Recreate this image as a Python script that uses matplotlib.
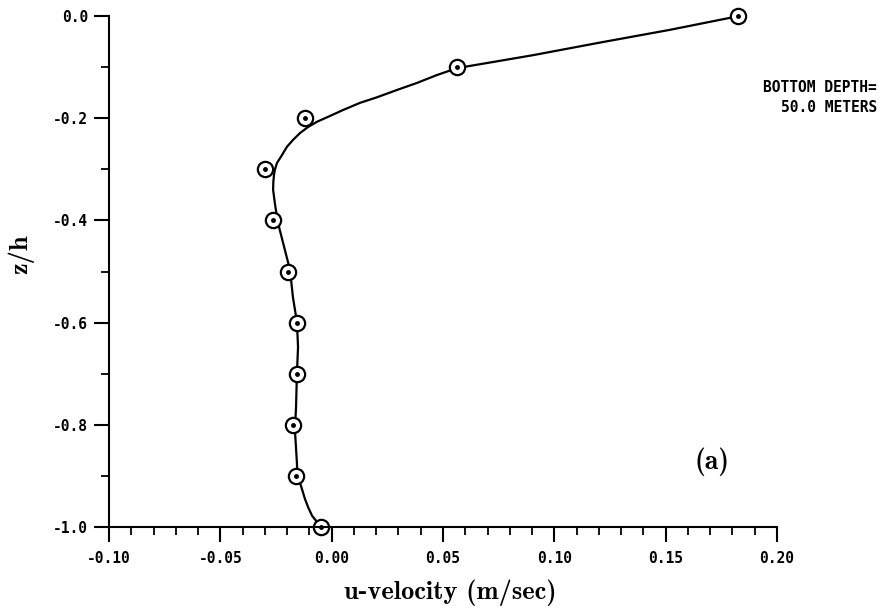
import matplotlib
matplotlib.use("Agg")
import matplotlib.pyplot as plt
from matplotlib.ticker import MultipleLocator, FormatStrFormatter

# Puntos medidos (circulos con punto)
z_obs = [0.0, -0.1, -0.2, -0.3, -0.4, -0.5, -0.6, -0.7, -0.8, -0.9, -1.0]
u_obs = [0.1825, 0.0563, -0.0120, -0.0300, -0.0263, -0.0196,
         -0.0156, -0.0157, -0.0174, -0.0160, -0.0048]

# Perfil ajustado (linea continua)
z_fit = [0.0, -0.027, -0.052, -0.077, -0.102, -0.1155, -0.131, -0.1448,
         -0.159, -0.170, -0.184, -0.1957, -0.207, -0.2172, -0.229, -0.2427,
         -0.256, -0.272, -0.288, -0.301, -0.311, -0.325, -0.340, -0.370,
         -0.405, -0.458, -0.497, -0.550, -0.599, -0.648, -0.699, -0.765,
         -0.810, -0.875, -0.898, -0.922, -0.945, -0.961, -0.978, -0.990, -1.0]
u_fit = [0.1830, 0.1520, 0.1205, 0.0900, 0.0563, 0.0473, 0.0383, 0.0293,
         0.0204, 0.0127, 0.0051, -0.0008, -0.0066, -0.0106, -0.0142, -0.0174,
         -0.0201, -0.0223, -0.0246, -0.0255, -0.0259, -0.0262, -0.0263, -0.0254,
         -0.0241, -0.0210, -0.0187, -0.0174, -0.0156, -0.0151, -0.0156, -0.0160,
         -0.0165, -0.0156, -0.0154, -0.0136, -0.0120, -0.0106, -0.0088, -0.0066,
         -0.0048]

plt.rcParams['font.family'] = ['DejaVu Sans Mono']
plt.rcParams['font.weight'] = 'bold'
plt.rcParams['axes.unicode_minus'] = False

fig = plt.figure(figsize=(8.83, 6.12), dpi=100)
ax = fig.add_axes([109 / 883, 1 - 527 / 612, 668 / 883, 511 / 612])

# Curva y puntos
ax.plot(u_fit, z_fit, color='black', lw=1.6, clip_on=False, solid_joinstyle='round')
ax.plot(u_obs, z_obs, 'o', mfc='white', mec='black', mew=1.6, ms=11, clip_on=False)
ax.plot(u_obs, z_obs, 'o', color='black', ms=2.5, clip_on=False)

# Limites y ejes
ax.set_xlim(-0.10, 0.20)
ax.set_ylim(-1.0, 0.0)
for side in ['top', 'right']:
    ax.spines[side].set_visible(False)
for side in ['left', 'bottom']:
    ax.spines[side].set_linewidth(1.5)

ax.xaxis.set_major_locator(MultipleLocator(0.05))
ax.xaxis.set_minor_locator(MultipleLocator(0.01))
ax.yaxis.set_major_locator(MultipleLocator(0.2))
ax.yaxis.set_minor_locator(MultipleLocator(0.1))
ax.xaxis.set_major_formatter(FormatStrFormatter('%.2f'))
ax.yaxis.set_major_formatter(FormatStrFormatter('%.1f'))

ax.tick_params(which='major', length=11, width=1.5, labelsize=10.5, direction='out')
ax.tick_params(which='minor', length=6, width=1.3, direction='out')
ax.tick_params(axis='x', which='major', pad=6)
ax.tick_params(axis='y', which='major', pad=4)

# Etiquetas
ax.set_xlabel('u-velocity (m/sec)', fontfamily='cmb10', fontsize=19)
ax.set_ylabel('z/h', fontfamily='cmb10', fontsize=19)
ax.xaxis.set_label_coords((450 - 109) / 668, (527 - 580) / 511)
ax.yaxis.set_label_coords((34 - 109) / 668, (527 - 254) / 511)

fig.text(877 / 883, 1 - 88 / 612, 'BOTTOM DEPTH=', ha='right', va='center', fontsize=10.5)
fig.text(877 / 883, 1 - 107 / 612, '50.0 METERS', ha='right', va='center', fontsize=10.5)
ax.text((712 - 109) / 668, (527 - 462) / 511, '(a)', transform=ax.transAxes,
        ha='center', va='center', fontfamily='cmb10', fontsize=20)

fig.savefig('out.png', dpi=100)
